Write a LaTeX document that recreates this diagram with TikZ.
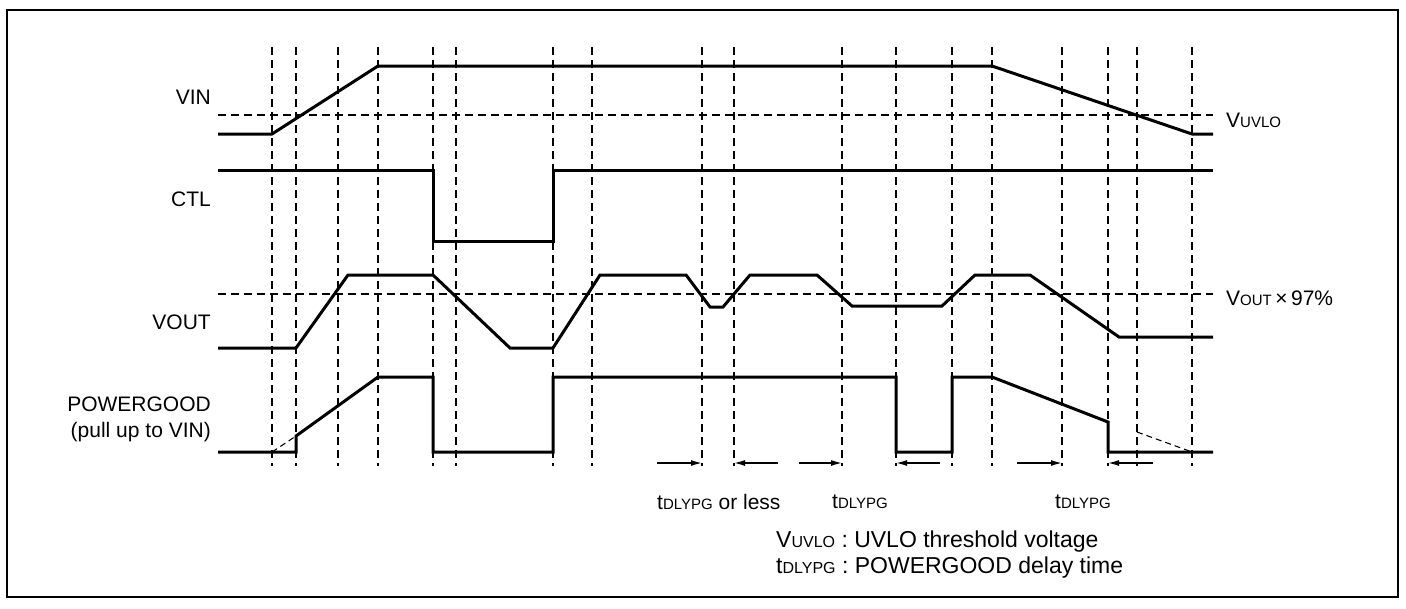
\documentclass[tikz,border=0pt]{standalone}
\usepackage{fontspec}
\setsansfont{Liberation Sans}
\tikzset{every picture/.style={/utils/exec={\sffamily}}}
\usetikzlibrary{arrows.meta}
\newcommand{\lowcap}[2][15]{{\fontsize{#1}{#1}\selectfont #2}}

\begin{document}
\begin{tikzpicture}[x=1pt, y=-1pt,
    sig/.style={line width=3pt},
    guide/.style={line width=1.1pt, dash pattern=on 8pt off 5pt},
    dim/.style={line width=1.4pt, -{Latex[length=11pt,width=6pt]}},
    lbl/.style={inner sep=0pt, font=\fontsize{21}{26}\selectfont}]
  \useasboundingbox (0,0) rectangle (1406,608);
  \draw [line width=2pt] (7,10) rectangle (1398,597);

  % time markers
  \foreach \t in {272,296,338,378,433,456,553,592,702,734,842,896,952,992,1062,1108,1137,1192}
    \draw [guide] (\t,47) -- (\t,466);
  % thresholds
  \draw [guide] (218,115) -- (1213,115);
  \draw [guide] (218,294) -- (1213,294);

  % signal names
  \node [lbl, anchor=east] (vin) at (211,97) {VIN};
  \node [lbl, anchor=east] (ctl) at (211,199) {CTL};
  \node [lbl, anchor=east] (vout) at (211,322) {VOUT};
  \node [lbl, anchor=east, align=right] (pgood) at (211,419) {POWERGOOD\\(pull up to VIN)};
  \node [lbl, anchor=west] (uvlo) at (1226,120) {V\lowcap{UVLO}};
  \node [lbl, anchor=west] (vthr) at (1226,298) {V\lowcap{OUT}\,×\,97\%};

  % VIN
  \draw [sig] (218,134) -- (272,134) -- (378,66) -- (992,66) -- (1192,134) -- (1213,134);
  % CTL
  \draw [sig] (218,170.5) -- (433,170.5) -- (433,241) -- (553,241) -- (553,170.5) -- (1213,170.5);
  % VOUT
  \draw [sig] (218,348) -- (296,348) -- (348,275) -- (433,275) -- (510,348) -- (553,348)
    -- (600,275) -- (686,275) -- (710,307) -- (723,307) -- (750,275) -- (817,275)
    -- (852,306) -- (942,306) -- (975,275) -- (1030,275) -- (1119,337) -- (1213,337);
  % POWERGOOD
  \draw [sig] (218,452) -- (296,452) -- (296,436) -- (378,377) -- (433,377) -- (433,452)
    -- (553,452) -- (553,377) -- (896,377) -- (896,452) -- (952,452) -- (952,377)
    -- (992,377) -- (1108,422) -- (1108,452) -- (1213,452);
  \draw [guide, dash pattern=on 6pt off 4pt] (272,452) -- (296,436);
  \draw [guide, dash pattern=on 6pt off 4pt] (1137,432) -- (1192,452);

  % delay arrows
  \draw [dim] (657,463) -- (702,463);
  \draw [dim] (778,463) -- (734,463);
  \draw [dim] (799,463) -- (842,463);
  \draw [dim] (940,463) -- (896,463);
  \draw [dim] (1017,463) -- (1062,463);
  \draw [dim] (1153,463) -- (1108,463);
  \node [lbl, anchor=west] (dly1) at (657,502) {t\lowcap{DLYPG} or less};
  \node [lbl, anchor=west] (dly2) at (832,502) {t\lowcap{DLYPG}};
  \node [lbl, anchor=west] (dly3) at (1055,502) {t\lowcap{DLYPG}};

  % legend
  \node [lbl, anchor=west, align=left, font=\fontsize{23}{26}\selectfont] (legend) at (776,555)
    {V\lowcap[16]{UVLO} : UVLO threshold voltage\\t\lowcap[16]{DLYPG} : POWERGOOD delay time};
\end{tikzpicture}
\end{document}
